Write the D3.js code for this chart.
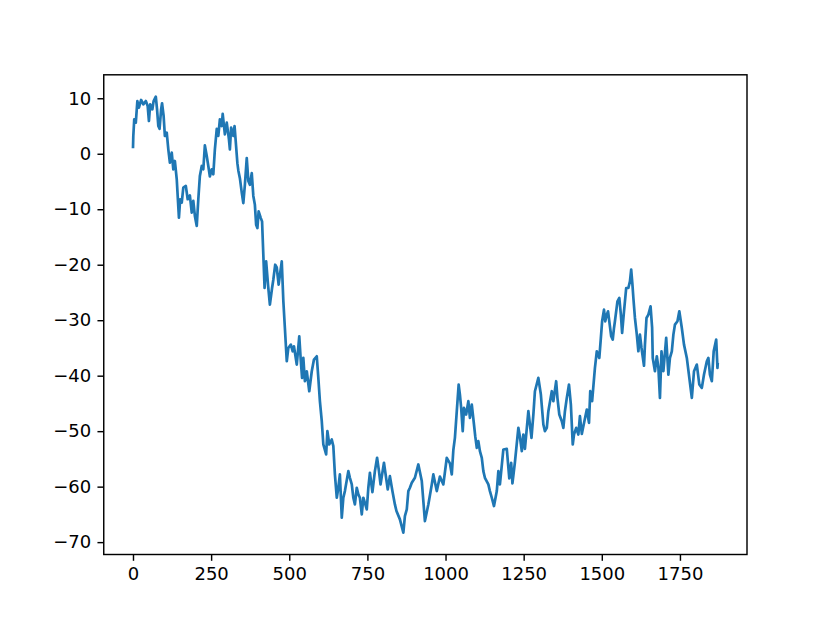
<!DOCTYPE html>
<html lang="en">
<head>
    <meta charset="UTF-8">
    <title>Random walk</title>
    <script src="https://d3js.org/d3.v7.min.js"></script>
    <style>
        html, body{ margin:0; padding:0; background:#fff; overflow:hidden; }
        svg{ display:block; }
        .axis text{ font-family:"DejaVu Sans", sans-serif; font-size:18px; fill:#000; }
        .axis line{ stroke:#000; stroke-width:1.44px; }
    </style>
</head>
<body>
<script>
    // step index and value
    const steps = [0,1,4,9,14,19,26,33,41,47,51,55,62,66,73,77,81,85,90,93,98,102,108,113,118,124,129,134,140,143,147,151,156,161,169,175,182,188,193,198,204,209,214,220,225,230,236,241,246,252,257,262,268,273,278,284,287,294,300,307,310,314,321,325,334,337,342,348,353,358,364,369,374,380,385,390,394,398,402,409,413,417,421,426,432,438,445,449,455,460,466,476,481,486,492,497,505,511,515,524,532,537,541,545,550,556,564,572,579,588,593,598,604,609,618,622,628,636,641,646,652,657,662,668,673,678,689,694,700,705,710,716,721,726,732,737,748,753,758,766,774,781,787,792,803,815,822,830,838,843,854,865,870,876,881,886,892,902,913,924,929,934,945,956,961,972,982,993,1004,1014,1020,1025,1030,1036,1042,1046,1050,1055,1059,1066,1073,1078,1084,1091,1095,1100,1105,1110,1116,1121,1126,1137,1142,1148,1155,1164,1169,1174,1185,1196,1204,1210,1214,1222,1233,1238,1244,1249,1254,1265,1270,1275,1281,1286,1297,1305,1313,1318,1324,1329,1340,1345,1354,1358,1364,1372,1377,1382,1388,1395,1401,1407,1411,1418,1425,1430,1436,1440,1452,1459,1463,1469,1478,1484,1492,1497,1501,1507,1511,1516,1520,1524,1530,1535,1539,1542,1550,1556,1561,1565,1571,1578,1585,1590,1594,1598,1601,1606,1612,1617,1622,1627,1635,1638,1643,1649,1656,1661,1663,1670,1676,1681,1686,1691,1697,1706,1713,1718,1724,1729,1734,1742,1748,1756,1763,1772,1780,1788,1795,1804,1812,1820,1827,1836,1841,1846,1852,1858,1866,1870,1871];
    const values = [1.0,3.2,6.2,5.6,9.5,8.3,9.7,8.9,9.5,8.6,5.9,8.9,8.0,9.5,10.3,8.0,5.0,4.5,8.0,9.1,6.8,3.2,3.8,0.8,-1.6,0.2,-2.8,-1.3,-4.6,-7.6,-11.5,-8.2,-8.8,-6.1,-5.8,-8.2,-7.5,-10.6,-8.5,-11.2,-13.0,-8.2,-4.0,-2.2,-2.8,1.5,-0.4,-2.2,-4.1,-2.8,-3.7,0.8,4.5,3.2,6.2,5.0,7.2,3.5,5.6,2.6,0.8,4.7,3.2,5.0,-1.7,-3.0,-4.4,-7.0,-8.9,-5.6,-0.8,-4.9,-5.6,-3.5,-7.6,-9.2,-12.8,-13.4,-10.4,-11.6,-12.2,-18.2,-24.2,-19.4,-23.6,-27.2,-24.2,-22.7,-20.0,-20.5,-23.6,-19.4,-26.5,-31.4,-37.4,-35.0,-34.4,-35.6,-34.7,-38.0,-32.9,-37.4,-40.4,-36.8,-41.0,-39.2,-42.8,-39.2,-37.1,-36.5,-40.4,-44.6,-48.2,-52.4,-54.2,-50.0,-52.4,-51.5,-52.7,-57.8,-62.0,-60.2,-57.8,-65.6,-62.0,-60.8,-57.2,-58.4,-59.6,-62.0,-63.2,-60.2,-61.4,-62.0,-65.0,-62.0,-64.1,-60.2,-57.5,-61.0,-57.2,-54.8,-57.2,-59.6,-55.7,-60.5,-58.1,-60.8,-63.2,-64.4,-65.9,-68.3,-65.3,-64.1,-60.8,-60.2,-59.3,-58.4,-56.0,-59.0,-62.6,-66.2,-63.2,-59.6,-57.8,-60.8,-58.2,-59.6,-54.8,-55.8,-57.8,-53.4,-51.2,-46.4,-41.6,-43.4,-45.8,-50.0,-45.8,-47.0,-44.6,-47.6,-45.2,-48.8,-50.9,-53.0,-51.8,-53.6,-54.8,-57.2,-58.4,-59.6,-60.8,-62.0,-63.5,-60.8,-57.2,-59.6,-53.3,-53.2,-58.5,-55.7,-59.4,-55.6,-49.4,-51.0,-53.6,-50.6,-53.2,-46.4,-48.8,-51.2,-47.0,-42.8,-40.4,-43.4,-48.8,-50.0,-49.4,-46.4,-42.8,-44.6,-41.0,-44.0,-47.0,-48.2,-49.4,-46.4,-44.0,-41.6,-45.2,-52.4,-50.6,-49.4,-50.6,-47.3,-50.5,-49.4,-46.1,-48.5,-42.8,-44.6,-38.6,-35.6,-36.8,-33.2,-30.2,-28.1,-30.2,-29.0,-28.4,-30.2,-32.9,-33.5,-31.4,-30.2,-26.6,-26.0,-29.0,-32.3,-28.4,-24.2,-24.2,-23.0,-20.9,-23.6,-26.0,-29.6,-32.6,-35.6,-32.6,-35.0,-38.2,-34.4,-29.6,-29.0,-27.5,-31.4,-36.8,-39.2,-36.5,-38.5,-44.0,-35.6,-39.2,-33.2,-39.8,-36.8,-35.6,-32.6,-30.8,-30.2,-28.4,-31.4,-34.4,-36.8,-40.4,-44.0,-39.2,-38.0,-41.6,-42.2,-39.8,-37.4,-36.8,-39.8,-41.0,-35.6,-33.5,-38.6,-37.7];
    const xTicks = [0, 250, 500, 750, 1000, 1250, 1500, 1750];
    const yTicks = [-70, -60, -50, -40, -30, -20, -10, 0, 10];

    const data = steps.map((s, i) => ({ step: s, value: values[i] }));

    const width = 830;
    const height = 623;
    const margin = { top: 74.8, right: 83, bottom: 68.5, left: 103.75 };
    const innerWidth = width - margin.left - margin.right;
    const innerHeight = height - margin.top - margin.bottom;

    const svg = d3.select("body")
        .append("svg")
        .attr("width", width)
        .attr("height", height)
        .append("g")
        .attr("transform", `translate(${margin.left},${margin.top})`);

    // matplotlib style 5% padding around the data
    const [x0, x1] = d3.extent(data, d => d.step);
    const [y0, y1] = d3.extent(data, d => d.value);
    const xPad = (x1 - x0) * 0.05;
    const yPad = (y1 - y0) * 0.05;

    const xScale = d3.scaleLinear()
        .domain([x0 - xPad, x1 + xPad])
        .range([0, innerWidth]);

    const yScale = d3.scaleLinear()
        .domain([y0 - yPad, y1 + yPad])
        .range([innerHeight, 0]);

    // x axis
    const xAxis = svg.append("g")
        .attr("class", "axis")
        .attr("transform", `translate(0,${innerHeight})`)
        .call(d3.axisBottom(xScale).tickValues(xTicks).tickSize(6.3).tickSizeOuter(0).tickPadding(6.3).tickFormat(d3.format("d")));
    xAxis.select(".domain").remove();

    // y axis
    const yAxis = svg.append("g")
        .attr("class", "axis")
        .call(d3.axisLeft(yScale).tickValues(yTicks).tickSize(6.3).tickSizeOuter(0).tickPadding(6.3).tickFormat(d => d < 0 ? "\u2212" + Math.abs(d) : d));
    yAxis.select(".domain").remove();

    // the line
    const line = d3.line()
        .x(d => xScale(d.step))
        .y(d => yScale(d.value));

    svg.append("path")
        .datum(data)
        .attr("fill", "none")
        .attr("stroke", "#1f77b4")
        .attr("stroke-width", 2.7)
        .attr("stroke-linejoin", "round")
        .attr("d", line);

    // frame
    svg.append("rect")
        .attr("width", innerWidth)
        .attr("height", innerHeight)
        .attr("fill", "none")
        .attr("stroke", "#000")
        .attr("stroke-width", 1.44);
</script>
</body>
</html>
